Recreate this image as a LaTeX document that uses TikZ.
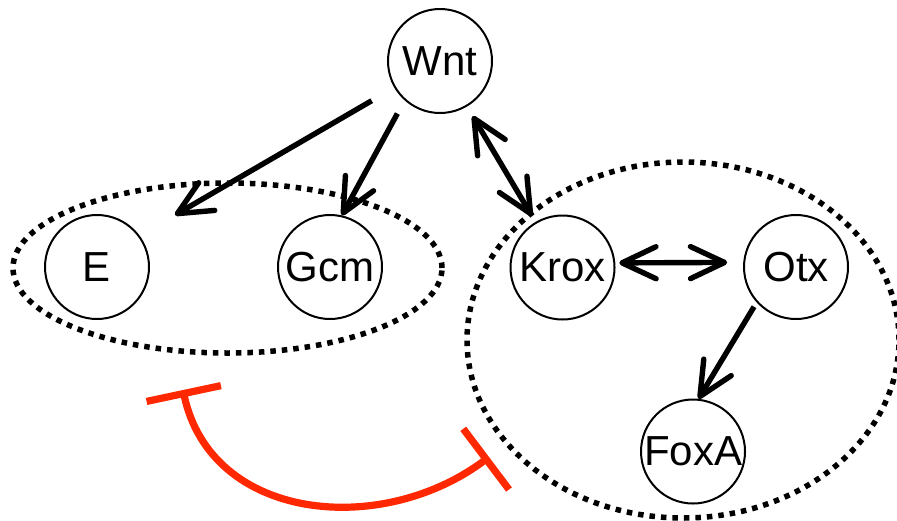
\documentclass[tikz,border=0pt]{standalone}
\usepackage{fontspec}
\setmainfont{Liberation Sans}
\usepackage{tikz}
\usetikzlibrary{shapes,arrows}
\usetikzlibrary{arrows.meta}
\definecolor{inhibRed}{RGB}{255,40,0}
\tikzset{
	gene/.style     = {draw, circle, line width=1pt, inner sep=0pt,
		minimum size = 52pt,
		font = \fontsize{21}{25}\selectfont},
	module/.style   = {draw, ellipse, line width=2.75pt, inner sep=0pt,
		dash pattern = on 2.75pt off 3pt},
	inhibit/.style  = {draw=inhibRed, line width=3.6pt,
		{Bar[width=38pt]}-{Bar[width=38pt]}},
}

\begin{document}
\begin{tikzpicture}[ x=0.5pt, y=0.5pt,                %<--one unit per pixel
                     line width=2.7pt,                %<--setting line style
                     >/.tip={Straight Barb[length=17pt, width=16pt, round]}
                     ]
    \useasboundingbox (0,0) rectangle (897,-520);

    %-- Modules creation --%
    \draw
      % ENDOMESODERM GROUPS %
      node(endoModule) at (227.5,-268) [module, minimum width=214.5pt, minimum height=85pt]{}
      node(kroxModule) at (683,-340)   [module, minimum width=216pt, minimum height=178pt]{}
    ;
    %-- Genes creation --%
    \draw
      node(wnt)  at (440,-61)      [gene]{Wnt}
      node(e)    at (97,-267)      [gene]{E}
      node(gcm)  at (330,-267)     [gene]{Gcm}
      node(krox) at (562.5,-267.5) [gene]{Krox}
      node(otx)  at (796,-267)     [gene]{Otx}
      node(foxa) at (693,-451.5)   [gene]{FoxA}

      node[shape=coordinate][](endoInput) at (175,-215){}
      node[shape=coordinate][](inhibFrom) at (183,-390){}
      node[shape=coordinate][](inhibTo)   at (489,-457){}
    ;

    %-- Gene linking --%
    % WNT SIGNAL %
    \draw[->, shorten <=13pt]  (wnt)      -- (endoInput);
    \draw[->, shorten <=7.5pt] (wnt.228)  -- (gcm.77);
    \draw[<->, shorten <=5.5pt, shorten >=3.5pt] (wnt) -- (krox);

    % KROX-OTX LOOP %
    \draw[<->, shorten <=2pt, shorten >=8pt] (krox.5) -- (otx.175);
    \draw[->, shorten <=2.5pt] (otx.222)  -- (foxa.84);

    % REPRESSION %
    \draw[inhibit] (inhibFrom) to[out=-78, in=-143, looseness=1.1] (inhibTo);

\end{tikzpicture}
\end{document}
